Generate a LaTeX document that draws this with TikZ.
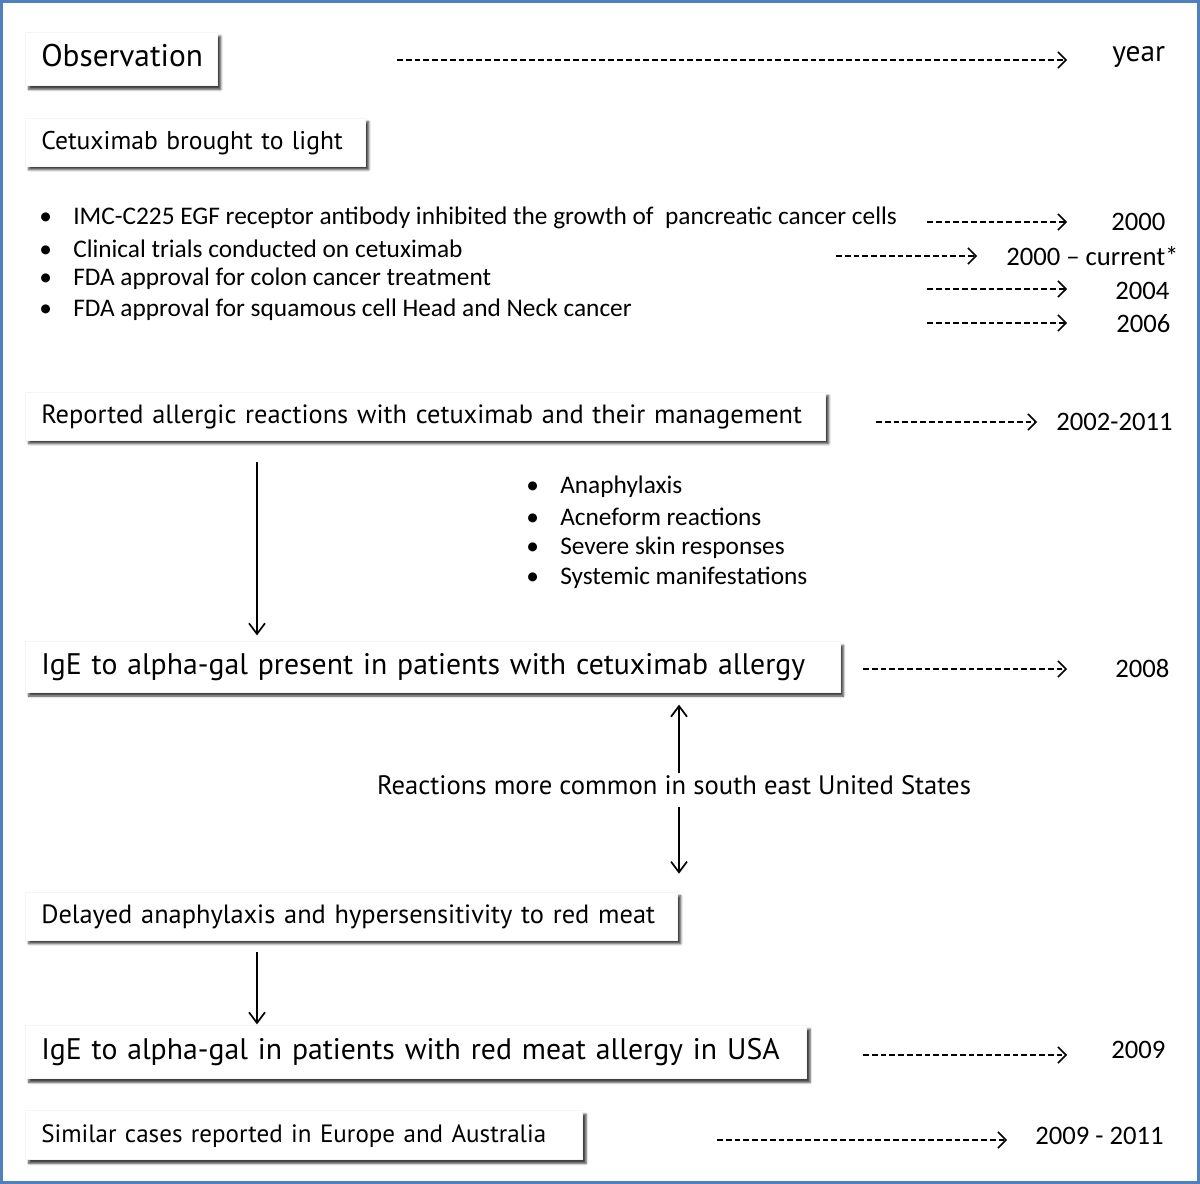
\documentclass[tikz,border=0pt]{standalone}
\usepackage{fontspec}
\setmainfont{PT Sans}
\newfontfamily\calibri{Carlito}
\usepackage{xcolor}
\usetikzlibrary{arrows.meta,shadows.blur}
\definecolor{frameblue}{RGB}{79,129,189}

\newcommand{\bul}{\makebox[25.5pt][l]{\textbullet}}

\tikzset{
  stepbox/.style={fill=white, draw=black!4, anchor=west, inner xsep=12pt, inner ysep=0pt,
    align=left, text height=1.1em, text depth=0pt,
    blur shadow={shadow xshift=2.6pt, shadow yshift=-2.8pt, shadow blur radius=1.6pt, shadow opacity=75}},
  smallfont/.style={font={\fontsize{19.8}{22}\selectfont}},
  bigfont/.style={font={\fontsize{22.3}{25}\selectfont}},
  fact/.style={anchor=west, inner sep=0pt, font={\calibri\fontsize{19}{22}\selectfont}},
  yr/.style={anchor=base west, inner sep=0pt, font={\calibri\fontsize{20}{24}\selectfont}},
  datearrow/.style={line width=1.1pt, dash pattern=on 4.4pt off 2.2pt,
    -{Straight Barb[length=6pt,width=12pt,line width=1.1pt]}},
  flow/.style={line width=1.3pt, -{Straight Barb[length=8pt,width=12pt,line width=1.3pt]}}
}

\begin{document}
\begin{tikzpicture}[x=0.75pt,y=-0.75pt]
  \useasboundingbox (0,0) rectangle (1200,1184);
  \draw[frameblue, line width=1.8pt] (1.5,1.5) rectangle (1198.5,1182.5);

  % boxes on the left
  \node[stepbox, text width=120pt, minimum height=40pt, font={\fontsize{23.5}{26}\selectfont}] (obs) at (25,59) {Observation};
  \node[stepbox, text width=231pt, minimum height=36pt, font={\fontsize{19.2}{22}\selectfont}] (cetux) at (25,142) {Cetuximab brought to light};
  \node[stepbox, smallfont, text width=576pt, minimum height=36pt] (rep) at (25,416) {Reported allergic reactions with cetuximab and their management};
  \node[stepbox, bigfont, text width=587pt, minimum height=38pt] (ige1) at (25,667) {IgE to alpha-gal present in patients with cetuximab allergy};
  \node[stepbox, smallfont, text width=465pt, minimum height=36pt] (delay) at (25,916) {Delayed anaphylaxis and hypersensitivity to red meat};
  \node[stepbox, bigfont, text width=562pt, minimum height=40pt] (ige2) at (25,1052) {IgE to alpha-gal in patients with red meat allergy in USA};
  \node[stepbox, text width=394pt, minimum height=37pt, font={\fontsize{18.8}{22}\selectfont}] (similar) at (25,1135) {Similar cases reported in Europe and Australia};

  % bullet lists
  \node[fact] (f1) at (39,218) {\bul IMC-C225 EGF receptor antibody inhibited the growth of\ \ pancreatic cancer cells};
  \node[fact] (f2) at (39,249) {\bul Clinical trials conducted on cetuximab};
  \node[fact] (f3) at (39,279) {\bul FDA approval for colon cancer treatment};
  \node[fact] (f4) at (39,310) {\bul FDA approval for squamous cell Head and Neck cancer};
  \node[fact] (r1) at (526,487) {\bul Anaphylaxis};
  \node[fact] (r2) at (526,517) {\bul Acneform reactions};
  \node[fact] (r3) at (526,548) {\bul Severe skin responses};
  \node[fact] (r4) at (526,578) {\bul Systemic manifestations};

  \node[font={\fontsize{20}{24}\selectfont}, inner xsep=0pt, inner ysep=8.7pt, text height=0.7em, text depth=0pt] (react) at (674,790) {Reactions more common in south east United States};

  % years
  \node[yr, font={\fontsize{22}{26}\selectfont}] (yyear) at (1112,62) {year};
  \node[yr] (y2000) at (1111,231) {2000};
  \node[yr] (ycur) at (1006,265) {2000 \textendash{} current*};
  \node[yr] (y2004) at (1115,299) {2004};
  \node[yr] (y2006) at (1116,332) {2006};
  \node[yr] (y2002) at (1056,430) {2002-2011};
  \node[yr] (y2008) at (1115,677) {2008};
  \node[yr] (y2009) at (1111,1058) {2009};
  \node[yr] (y2011) at (1035,1144) {2009 - 2011};

  % dashed time arrows
  \coordinate (tyear) at (397,60);
  \coordinate (t2000) at (927,222);
  \coordinate (tcur) at (836,256);
  \coordinate (t2004) at (927,289);
  \coordinate (t2006) at (927,323);
  \coordinate (t2002) at (876,422);
  \coordinate (t2008) at (863,669);
  \coordinate (t2009) at (863,1055);
  \coordinate (t2011) at (717,1140);
  \draw[datearrow, shorten >=33.75pt] (tyear) -- (tyear -| yyear.west);
  \draw[datearrow, shorten >=33pt] (t2000) -- (t2000 -| y2000.west);
  \draw[datearrow, shorten >=21.75pt] (tcur) -- (tcur -| ycur.west);
  \draw[datearrow, shorten >=36pt] (t2004) -- (t2004 -| y2004.west);
  \draw[datearrow, shorten >=36.75pt] (t2006) -- (t2006 -| y2006.west);
  \draw[datearrow, shorten >=14.25pt] (t2002) -- (t2002 -| y2002.west);
  \draw[datearrow, shorten >=36pt] (t2008) -- (t2008 -| y2008.west);
  \draw[datearrow, shorten >=33pt] (t2009) -- (t2009 -| y2009.west);
  \draw[datearrow, shorten >=21pt] (t2011) -- (t2011 -| y2011.west);

  % solid arrows
  \coordinate (colA) at (257,0);
  \coordinate (colB) at (679,0);
  \draw[flow, shorten <=16.5pt, shorten >=4.5pt] (rep.south -| colA) -- (ige1.north -| colA);
  \draw[flow, shorten >=9pt] (react.north -| colB) -- (ige1.south -| colB);
  \draw[flow, shorten >=13.5pt] (react.south -| colB) -- (delay.north -| colB);
  \draw[flow, shorten <=9pt, shorten >=0.5pt] (delay.south -| colA) -- (ige2.north -| colA);
\end{tikzpicture}
\end{document}
